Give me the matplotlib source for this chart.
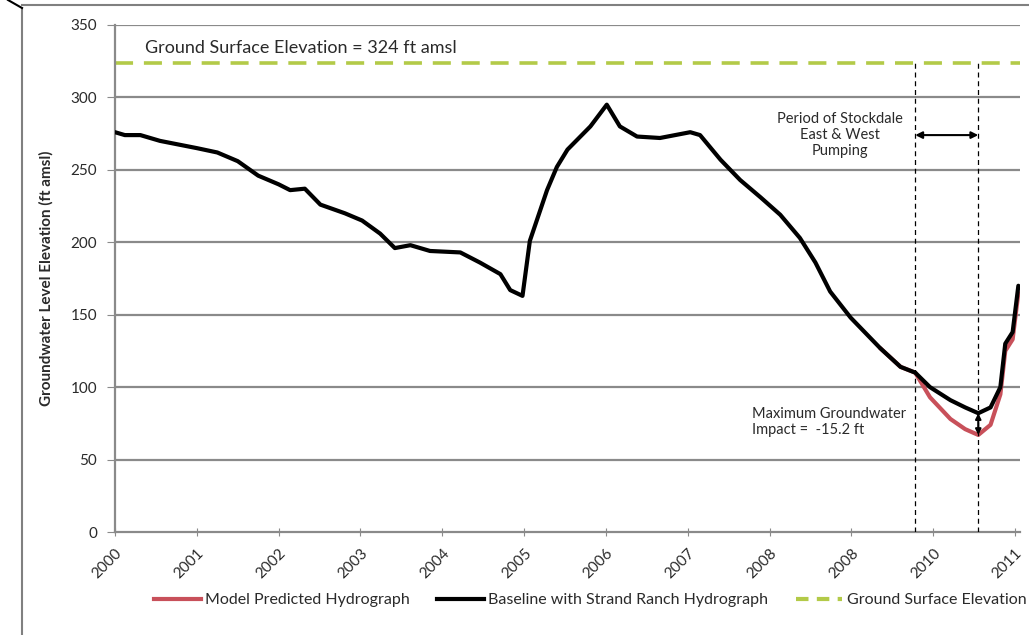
import matplotlib
matplotlib.use("Agg")
import matplotlib.pyplot as plt
from matplotlib.lines import Line2D

plt.rcParams['font.family'] = ['Lato', 'DejaVu Sans']

# ---- data ----
base_years = [2000.00, 2000.12, 2000.31, 2000.55, 2001.00, 2001.25, 2001.50, 2001.75,
              2002.00, 2002.14, 2002.32, 2002.51, 2002.81, 2003.02, 2003.24, 2003.42,
              2003.61, 2003.85, 2004.22, 2004.46, 2004.71, 2004.83, 2004.98, 2005.07,
              2005.28, 2005.40, 2005.53, 2005.81, 2006.01, 2006.17, 2006.38, 2006.66,
              2007.03, 2007.15, 2007.40, 2007.64, 2007.89, 2008.13, 2008.37, 2008.56,
              2008.74, 2008.99, 2009.35, 2009.60, 2009.78, 2009.96, 2010.21, 2010.39,
              2010.55, 2010.70, 2010.82, 2010.88, 2010.97, 2011.04]
base_level = [276, 274, 274, 270, 265, 262, 256, 246,
              240, 236, 237, 226, 220, 215, 206, 196,
              198, 194, 193, 186, 178, 167, 163, 201,
              236, 252, 264, 280, 295, 280, 273, 272,
              276, 274, 257, 243, 231, 219, 203, 186,
              166, 148, 127, 114, 110, 100, 91, 86,
              82, 86, 100, 130, 138, 170]

model_years = [2009.35, 2009.60, 2009.78, 2009.96, 2010.21, 2010.39, 2010.55,
               2010.70, 2010.82, 2010.88, 2010.97, 2011.04]
model_level = [127, 114, 110, 93, 78, 71, 67, 74, 95, 125, 133, 165]

ground_elev = 324
pump_start, pump_end = 2009.78, 2010.55
impact_base, impact_model = 82, 67

x_ticks = [2000, 2001, 2002, 2003, 2004, 2005, 2006, 2007, 2008, 2009, 2010, 2011]
x_labels = ['2000', '2001', '2002', '2003', '2004', '2005', '2006', '2007',
            '2008', '2008', '2010', '2011']
y_ticks = [0, 50, 100, 150, 200, 250, 300, 350]

# ---- figure ----
W, H = 1029, 635
fig = plt.figure(figsize=(W / 100, H / 100), dpi=100)
ax = fig.add_axes([115 / W, 1 - 532 / H, (1020 - 115) / W, 507 / H])

grid_c = '#8a8a8a'
txt_c = '#2a2a2a'
for v in y_ticks[1:]:
    ax.axhline(v, color=grid_c, lw=1.6, zorder=1)

red = '#C8505A'
green = '#B3CA48'
ax.plot(model_years, model_level, color=red, lw=3, zorder=3,
        solid_capstyle='round', solid_joinstyle='round')
ax.plot(base_years, base_level, color='black', lw=3, zorder=4,
        solid_capstyle='round', solid_joinstyle='round')
ax.axhline(ground_elev, color=green, lw=2.6, dashes=(5, 3), zorder=2)

for xv in (pump_start, pump_end):
    ax.vlines(xv, 0, ground_elev, colors='black', lw=0.9, linestyles=(0, (4, 3)), zorder=5)

ax.annotate('', xy=(pump_start, 274), xytext=(pump_end, 274),
            arrowprops=dict(arrowstyle='<|-|>', color='black', lw=1.5,
                            mutation_scale=10, shrinkA=0, shrinkB=0), zorder=6)
ax.annotate('', xy=(pump_end, impact_model), xytext=(pump_end, impact_base),
            arrowprops=dict(arrowstyle='<|-|>', color='black', lw=1.5,
                            mutation_scale=8, shrinkA=0, shrinkB=0), zorder=6)

ax.text(2008.86, 274, 'Period of Stockdale\nEast & West\nPumping', ha='center',
        va='center', fontsize=10.5, color=txt_c, linespacing=1.15)
ax.text(2007.79, 76, 'Maximum Groundwater\nImpact =  -15.2 ft', ha='left',
        va='center', fontsize=10.5, color=txt_c, linespacing=1.15)
ax.text(2000.37, 334, 'Ground Surface Elevation = 324 ft amsl', ha='left',
        va='center', fontsize=13, color=txt_c)

ax.set_xlim(2000, 2011.06)
ax.set_ylim(0, 350)
ax.set_xticks(x_ticks)
ax.set_xticklabels(x_labels, rotation=45, ha='right', rotation_mode='anchor',
                   fontsize=11, color=txt_c)
ax.set_yticks(y_ticks)
ax.set_yticklabels([str(v) for v in y_ticks], fontsize=11, color=txt_c)
ax.tick_params(axis='x', direction='inout', length=6, color=grid_c, pad=7)
ax.tick_params(axis='y', direction='out', length=6, color=grid_c, pad=7)
for s in ('top', 'right'):
    ax.spines[s].set_visible(False)
for s in ('left', 'bottom'):
    ax.spines[s].set_color(grid_c)
    ax.spines[s].set_linewidth(1.6)
ax.set_ylabel('Groundwater Level Elevation (ft amsl)', fontsize=11,
              fontweight='bold', color=txt_c)
ax.yaxis.set_label_coords((54 - 115) / 905, 0.5)

handles = [Line2D([], [], color=red, lw=3),
           Line2D([], [], color='black', lw=3),
           Line2D([], [], color=green, lw=3, dashes=(3, 2))]
labels = ['Model Predicted Hydrograph', 'Baseline with Strand Ranch Hydrograph',
          'Ground Surface Elevation']
fig.legend(handles, labels, loc='center left', bbox_to_anchor=(140 / W, 1 - 600 / H),
           ncol=3, frameon=False, fontsize=11.5, handlelength=2.9, handletextpad=0.3,
           columnspacing=1.7, labelcolor=txt_c)

# outer frame (chart border)
border = '#808080'
fig.add_artist(Line2D([22 / W, 22 / W], [0, 1 - 8 / H], color=border, lw=1.5,
                      transform=fig.transFigure))
fig.add_artist(Line2D([22 / W, 1], [1 - 5 / H, 1 - 5 / H], color=border, lw=1.5,
                      transform=fig.transFigure))
fig.add_artist(Line2D([8 / W, 22 / W], [1, 1 - 8 / H], color='black', lw=1.5,
                      transform=fig.transFigure))

fig.savefig('out.png', dpi=100)
